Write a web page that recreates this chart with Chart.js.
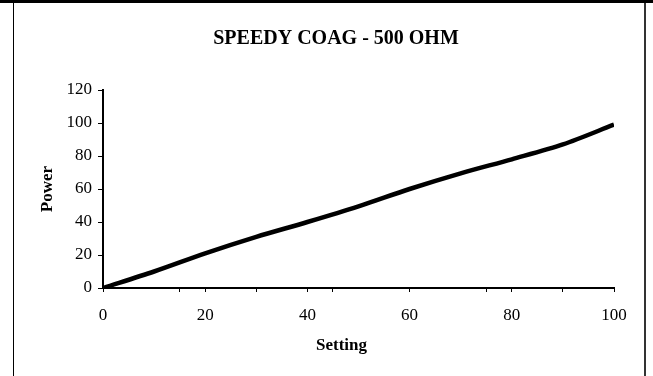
<!DOCTYPE html>
<html>
<head>
<meta charset="utf-8">
<script src="https://cdn.jsdelivr.net/npm/chart.js@4"></script>
<style>
  body { margin: 0; background: #fff; }
  #wrap { position: relative; width: 653px; height: 376px; overflow: hidden; }
  #topline { position: absolute; left: 0; top: 0; width: 653px; height: 3px; background: #000; }
  #frame { position: absolute; left: 13px; top: 3px; width: 630px; height: 400px;
           border-left: 1px solid #000; border-right: 2px solid #333; }
  canvas { position: absolute; left: 0; top: 0; }
</style>
</head>
<body>
<div id="wrap">
  <div id="topline"></div>
  <div id="frame"></div>
  <canvas id="chart" width="653" height="376"></canvas>
</div>
<script>
// Setting vs power
const settings = [0, 10, 20, 30, 40, 50, 60, 70, 80, 90, 100];
const power = [0, 10, 21, 31, 40, 49.5, 60, 69.5, 78, 87, 99];

// tick marks on the axes (labels only on the multiples of 20)
const xTicks = [0, 15, 20, 30, 40, 45, 60, 75, 80, 90, 100];
const xLabels = [0, 20, 40, 60, 80, 100];
const yTicks = [0, 20, 40, 60, 80, 100, 120];

Chart.defaults.font.family = "'Liberation Serif', 'Times New Roman', serif";
Chart.defaults.color = '#000';

const ctx = document.getElementById('chart').getContext('2d');
new Chart(ctx, {
    type: 'line',
    data: {
        datasets: [{
            label: 'Power',
            data: settings.map((s, i) => ({ x: s, y: power[i] })),
            borderColor: '#000',
            borderWidth: 4.5,
            pointRadius: 0,
            tension: 0.3,
            fill: false
        }]
    },
    options: {
        responsive: false,
        animation: false,
        layout: { padding: { left: 58, right: 39, top: 0, bottom: 0 } },
        plugins: {
            legend: { display: false },
            tooltip: { enabled: false },
            title: {
                display: true,
                text: 'SPEEDY COAG - 500 OHM',
                font: { size: 20, weight: 'bold' },
                padding: { top: 27, bottom: 39 }
            }
        },
        scales: {
            x: {
                type: 'linear',
                min: 0,
                max: 100,
                afterBuildTicks: function(scale) {
                    scale.ticks = xTicks.map(v => ({ value: v }));
                },
                afterFit: function(scale) { scale.height = 88; },
                ticks: {
                    autoSkip: false,
                    maxRotation: 0,
                    padding: 13,
                    font: { size: 17 },
                    callback: function(v) { return xLabels.includes(v) ? String(v) : ''; }
                },
                grid: { drawOnChartArea: false, drawTicks: true, tickLength: 4, color: '#000' },
                border: { color: '#000', width: 2 },
                title: {
                    display: true,
                    // trailing spaces pull the centred title a little to the left, as in the original
                    text: 'Setting        ',
                    font: { size: 17, weight: 'bold' },
                    padding: { top: 0, bottom: 20 }
                }
            },
            y: {
                min: 0,
                max: 120,
                afterBuildTicks: function(scale) {
                    scale.ticks = yTicks.map(v => ({ value: v }));
                },
                afterFit: function(scale) { scale.width = 45; },
                ticks: { padding: 6, font: { size: 17 } },
                grid: { drawOnChartArea: false, drawTicks: true, tickLength: 5, color: '#000' },
                border: { color: '#000', width: 2 },
                title: {
                    display: true,
                    text: 'Power',
                    font: { size: 17, weight: 'bold' },
                    padding: { top: -21, bottom: 0 }
                }
            }
        }
    }
});
</script>
</body>
</html>
